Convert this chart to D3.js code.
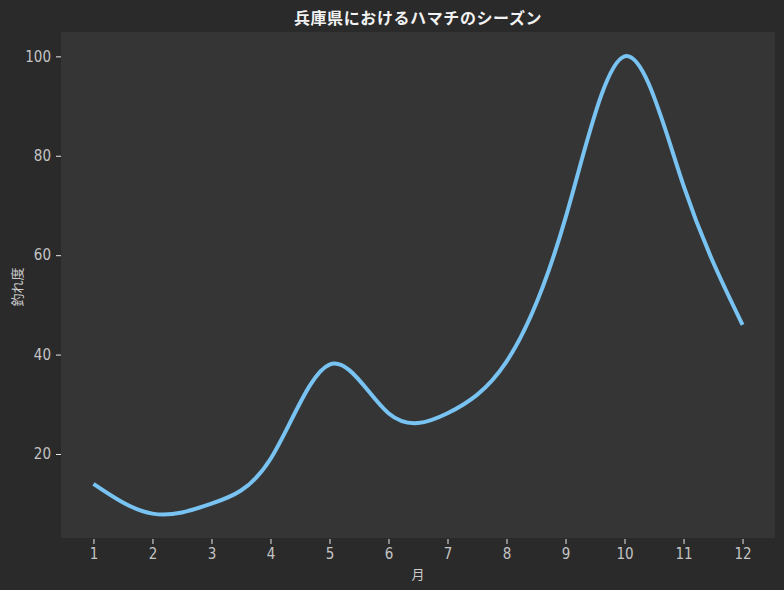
<!DOCTYPE html>
<html>
<head>
<meta charset="utf-8">
<script src="https://cdn.jsdelivr.net/npm/d3@7"></script>
<style>
  html, body { margin: 0; padding: 0; background: #2a2a2a; }
  svg { display: block; }
  text { font-family: "Noto Sans CJK JP", "Noto Sans", sans-serif; }
</style>
</head>
<body>
<div id="chart"></div>
<script>
var months = [1, 2, 3, 4, 5, 6, 7, 8, 9, 10, 11, 12];
var catchValues = [14, 8, 10, 19, 38, 28.2, 28.2, 38.6, 67.5, 100, 74, 46];
var yTicks = [20, 40, 60, 80, 100];

var width = 784;
var height = 590;
var margin = {top: 32, right: 9, bottom: 52, left: 61};

var svg = d3.select('#chart')
	.append('svg')
	.attr('width', width)
	.attr('height', height);

svg.append('rect')
	.attr('width', width)
	.attr('height', height)
	.attr('fill', '#2a2a2a');

//plot background
svg.append('rect')
	.attr('x', margin.left)
	.attr('y', margin.top)
	.attr('width', width - margin.left - margin.right)
	.attr('height', height - margin.top - margin.bottom)
	.attr('fill', '#353535');

var x_scale = d3.scaleLinear()
	.domain([0.45, 12.55])
	.range([margin.left, width - margin.right]);

var y_scale = d3.scaleLinear()
	.domain([3.1, 104.9])
	.range([height - margin.bottom, margin.top]);

var x_axis = d3.axisBottom(x_scale)
	.tickValues(months)
	.tickFormat(d3.format('d'))
	.tickSize(5)
	.tickPadding(4);

var y_axis = d3.axisLeft(y_scale)
	.tickValues(yTicks)
	.tickSize(5)
	.tickPadding(5);

var gx = svg.append('g')
	.attr('transform', 'translate(0,' + (height - margin.bottom + 1) + ')')
	.call(x_axis);

var gy = svg.append('g')
	.attr('transform', 'translate(' + margin.left + ',0)')
	.call(y_axis);

[gx, gy].forEach(function(g){
	g.select('.domain').remove();
	g.selectAll('line').attr('stroke', '#e8e8e8');
	g.selectAll('text')
		.attr('fill', '#c4c4c4')
		.style('font-size', '15px')
		.style('font-family', '"Liberation Sans Narrow", "DejaVu Sans Condensed", sans-serif');
});

//the curve
var line = d3.line()
	.x(function(d, i){ return x_scale(months[i]); })
	.y(function(d){ return y_scale(d); })
	.curve(d3.curveNatural);

svg.append('path')
	.datum(catchValues)
	.attr('d', line)
	.attr('fill', 'none')
	.attr('stroke', '#78c3f2')
	.attr('stroke-width', 4)
	.attr('stroke-linecap', 'butt');

//labels
svg.append('text')
	.attr('x', (margin.left + width - margin.right) / 2)
	.attr('y', 24)
	.attr('text-anchor', 'middle')
	.attr('fill', '#f2f2f2')
	.style('font-size', '16px')
	.style('letter-spacing', '0.6px')
	.style('font-weight', 'bold')
	.text('兵庫県におけるハマチのシーズン');

svg.append('text')
	.attr('x', (margin.left + width - margin.right) / 2)
	.attr('y', 579)
	.attr('text-anchor', 'middle')
	.attr('fill', '#cccccc')
	.style('font-size', '13px')
	.text('月');

svg.append('text')
	.attr('transform', 'translate(22,' + ((margin.top + height - margin.bottom) / 2 + 2) + ') rotate(-90)')
	.attr('text-anchor', 'middle')
	.attr('fill', '#cccccc')
	.style('font-size', '13px')
	.text('釣れ度');
</script>
</body>
</html>
